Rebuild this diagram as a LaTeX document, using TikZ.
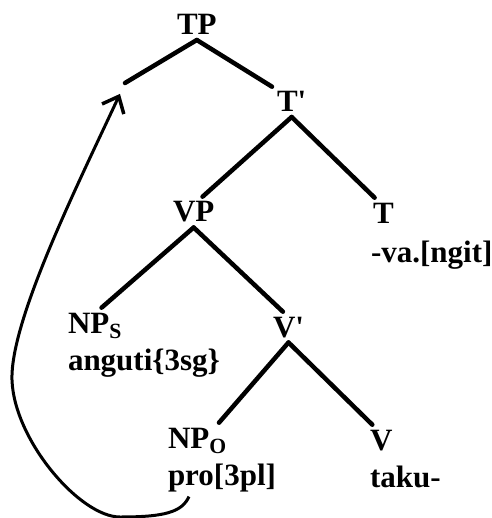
\documentclass[tikz,border=0pt]{standalone}
\usepackage{fontspec}
\setmainfont{Liberation Serif}
\usepackage{tikz}
\usetikzlibrary{arrows.meta}

\begin{document}
\begin{tikzpicture}[
    x=1pt, y=-1pt,
    cat/.style={anchor=base west, inner sep=0pt, outer sep=5pt, font=\fontsize{31}{36}\selectfont\bfseries},
    word/.style={anchor=base west, inner sep=0pt, outer sep=5pt, font=\fontsize{31}{36}\selectfont\bfseries},
    branch/.style={line width=4.5pt, line cap=round},
    move/.style={line width=3pt, -{Straight Barb[length=14pt, width=24pt, line width=3.5pt]}, shorten >=12pt}
  ]
    \useasboundingbox (0,0) rectangle (491,518);

    % Categories
    \node[cat] (tp) at (172,35) {TP};
    \coordinate (spec) at (125,83);
    \node[cat] (tbar) at (272,112) {T\textquotesingle};
    \node[cat] (vp) at (168,222) {VP};
    \node[cat] (tnode) at (368,223) {T};
    \node[cat] (nps) at (63,333) {NP\textsubscript{S}};
    \node[cat] (vbar) at (268,337) {V\textquotesingle};
    \node[cat] (npo) at (163,448) {NP\textsubscript{O}};
    \node[cat] (vnode) at (365,450) {V};

    % Words
    \node[word] (va) at (366,262) {-va.[ngit]};
    \node[word] (anguti) at (63,370) {anguti\{3sg\}};
    \node[word] (pro) at (163,485) {pro[3pl]};
    \node[word] (taku) at (365,487) {taku-};

    % Branches
    \draw[branch] (tp.south) -- (spec);
    \draw[branch] (tp.south) -- (tbar.north west);
    \draw[branch] (tbar.south) -- (vp.60);
    \draw[branch] (tbar.south) -- (tnode.120);
    \draw[branch] (vp.south) -- (nps.70);
    \draw[branch] (vp.south) -- (vbar.110);
    \draw[branch] (vbar.south) -- (npo.40);
    \draw[branch] (vbar.south) -- (vnode.120);

    % Movement
    \draw[move] (pro.210) .. controls (182,512) and (165,517) .. (120,517)
      .. controls (80,517) and (14,440) .. (12,380)
      .. controls (10,320) and (80,180) .. (spec);
  \end{tikzpicture}
\end{document}
